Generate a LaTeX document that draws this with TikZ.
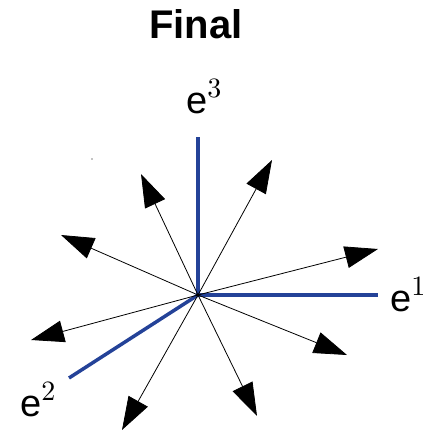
\documentclass[tikz,border=0pt]{standalone}
\usepackage{fontspec}
\usetikzlibrary{arrows.meta, positioning, calc}
\newfontfamily\titlefont{Liberation Sans}
\newfontfamily\idxfont{lmroman10-regular}[Extension=.otf]
\definecolor{axisblue}{RGB}{36,66,152}
\newcommand{\upidx}[1]{\raisebox{16pt}{\idxfont\fontsize{28}{30}\selectfont #1}}

\begin{document}
\begin{tikzpicture}[
			x=1pt, y=-1pt,
			title/.style={anchor=base, inner sep=0pt, font=\titlefont\bfseries\fontsize{40}{44}\selectfont},
			axislabel/.style={anchor=base west, inner sep=0pt, font=\titlefont\fontsize{38}{40}\selectfont},
			axis/.style={draw=axisblue, line width=3.5pt},
			vec/.style={-{Triangle[length=33pt, width=22pt]}, line width=0.8pt}
			]
			\useasboundingbox (0,0) rectangle (425,432);
			
			\node[title] (title) at (196,38) {Final};
			
			\coordinate (o) at (198,295);
			\coordinate (a1) at (378,295);
			\coordinate (a2) at (69,378);
			\coordinate (a3) at (198,137);
			
			\draw[axis] (o) -- (a1);
			\draw[axis] (o) -- (a2);
			\draw[axis] (o) -- (a3);
			
			\node[axislabel] (e1) at (390,311) {e\upidx{1}};
			\node[axislabel] (e2) at (20,416) {e\upidx{2}};
			\node[axislabel] (e3) at (186,113) {e\upidx{3}};
			
			\coordinate (v1) at (141,174);
			\coordinate (v2) at (272,160);
			\coordinate (v3) at (61,235);
			\coordinate (v4) at (378,249);
			\coordinate (v5) at (31,340);
			\coordinate (v6) at (347,355);
			\coordinate (v7) at (122,430);
			\coordinate (v8) at (257,416);
			
			\foreach \v in {v1,v2,v3,v4,v5,v6,v7,v8}
			\draw[vec] (o) -- (\v);
			
			\fill (92,159) circle (0.7);
		\end{tikzpicture}
\end{document}
